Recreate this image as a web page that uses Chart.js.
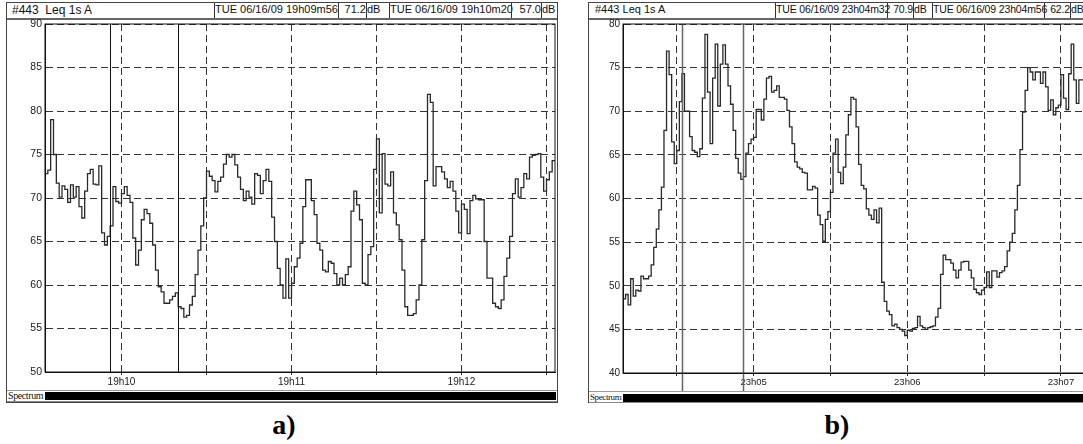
<!DOCTYPE html>
<html>
<head>
<meta charset="utf-8">
<script src="https://cdn.jsdelivr.net/npm/chart.js@4.4.0/dist/chart.umd.min.js"></script>
<style>
    body { margin: 0; width: 1083px; height: 444px; overflow: hidden; background: #fff; position: relative;
           font-family: "Liberation Sans", Arial, sans-serif; color: #111; }
    .panel { position: absolute; top: 2px; height: 401px; border: 1px solid #444; box-sizing: border-box; }
    .hdr { position: absolute; top: 3px; height: 17px; border-bottom: 2px solid #666; box-sizing: border-box; }
    .box { position: absolute; top: 0; height: 15px; line-height: 16px; white-space: nowrap; box-sizing: border-box; }
    .sep { border-left: 1px solid #333; }
    .chartbox { position: absolute; }
    .spec { position: absolute; height: 12px; border-top: 1px solid #999; border-bottom: 1px solid #888; box-sizing: border-box; }
    .spec span { position: absolute; left: 1px; top: 0; font-family: "Liberation Serif", serif; line-height: 10px; }
    .spec div { position: absolute; top: 1px; height: 8px; background: #000; }
    .tag { position: absolute; top: 411px; width: 50px; text-align: center; font: bold 28px/28px "Liberation Serif", serif; color: #000; }
</style>
</head>
<body>
<div class="panel" style="left:6px;width:552px"></div>
<div class="panel" style="left:588px;width:520px"></div>
<div id="hdrA" class="hdr" style="left:7px;width:550px"></div>
<div id="hdrB" class="hdr" style="left:589px;width:520px"></div>
<div class="chartbox" style="left:7px;top:12px;width:550px;height:378px"><canvas id="chartA"></canvas></div>
<div class="chartbox" style="left:589px;top:12px;width:495px;height:379px"><canvas id="chartB"></canvas></div>
<div class="spec" style="left:7px;top:390px;width:550px"><span style="font-size:10px;letter-spacing:-0.4px">Spectrum</span><div style="left:38px;width:511px"></div></div>
<div class="spec" style="left:589px;top:391px;width:500px"><span style="font-size:9px;letter-spacing:-0.4px">Spectrum</span><div style="left:34px;width:470px;top:2px"></div></div>
<div class="tag" style="left:259px">a)</div>
<div class="tag" style="left:812px">b)</div>

<script>
// Panel a) : 19h09m33 .. 19h12m33, one Leq value per second
const startA = '19:09:33';
const levelsA = [
    72.8, 73.2, 79.0, 75.0, 71.7, 70.1, 71.4, 71.0, 69.5, 71.5,
    70.1, 71.3, 69.0, 67.7, 70.8, 72.8, 73.3, 71.6, 71.5, 73.7,
    66.0, 64.6, 65.6, 66.8, 71.3, 69.6, 69.4, 70.5, 71.3, 70.3,
    69.5, 65.4, 62.3, 64.0, 67.5, 68.7, 68.2, 67.1, 64.6, 61.7,
    59.8, 59.2, 57.9, 57.9, 58.3, 58.7, 59.1, 57.5, 57.3, 56.3,
    56.5, 57.7, 58.7, 61.2, 64.0, 66.8, 70.0, 73.1, 72.5, 72.0,
    70.7, 71.9, 72.4, 73.9, 75.0, 74.7, 75.0, 73.8, 72.4, 71.0,
    69.7, 70.8, 70.1, 69.3, 72.8, 72.6, 70.5, 72.0, 73.3, 71.9,
    67.8, 65.0, 61.9, 60.0, 58.5, 63.0, 58.5, 60.2, 62.1, 63.1,
    64.8, 69.0, 72.1, 72.1, 69.7, 68.1, 64.8, 64.0, 61.7, 61.5,
    62.7, 62.5, 61.3, 60.0, 60.8, 60.0, 61.2, 62.1, 68.5, 70.8,
    69.2, 67.5, 60.2, 60.0, 63.5, 64.4, 73.3, 76.8, 68.3, 75.1,
    71.6, 71.4, 73.0, 68.3, 66.9, 65.2, 61.7, 57.5, 56.5, 56.5,
    56.7, 58.3, 60.0, 65.2, 72.0, 81.9, 81.0, 71.4, 73.6, 73.6,
    73.0, 72.2, 71.2, 71.9, 70.8, 68.5, 66.0, 69.3, 68.7, 65.9,
    69.7, 70.3, 69.9, 69.8, 69.8, 65.0, 60.8, 60.8, 57.9, 57.5,
    57.3, 58.3, 61.0, 63.1, 65.6, 70.5, 72.2, 70.1, 71.2, 72.8,
    72.2, 74.7, 74.9, 75.0, 75.1, 72.4, 70.8, 72.1, 73.0, 74.3
];
const yRangeA = [50, 90];
const cursorsA = ['19:09:56', '19:10:20'];
const headerA = ['#443\u00a0 Leq 1s A', 'TUE 06/16/09 19h09m56', '71.2', 'dB', 'TUE 06/16/09 19h10m20', '57.0', 'dB'];

// Panel b) : 23h04m09 .. 23h07m09
const startB = '23:04:09';
const levelsB = [
    48.5, 49.0, 47.8, 50.8, 48.8, 49.5, 49.4, 51.1, 50.8, 50.8,
    51.1, 52.4, 54.4, 56.5, 58.7, 61.3, 67.8, 76.9, 74.2, 66.5,
    64.0, 65.5, 71.1, 74.3, 70.0, 70.0, 67.1, 65.5, 65.3, 64.8,
    65.7, 71.5, 78.8, 72.2, 66.3, 73.8, 77.7, 70.6, 75.4, 77.6,
    75.4, 72.9, 70.8, 67.8, 64.6, 62.9, 62.2, 62.5, 65.2, 66.3,
    66.8, 67.0, 70.2, 70.2, 69.0, 71.4, 73.8, 74.0, 72.2, 72.4,
    72.9, 71.6, 71.6, 71.4, 70.1, 68.2, 66.3, 64.2, 63.6, 63.4,
    63.0, 62.9, 61.0, 61.0, 61.4, 61.2, 58.1, 57.0, 55.1, 57.6,
    58.5, 60.7, 65.2, 66.8, 63.0, 61.7, 63.6, 67.3, 69.6, 71.6,
    71.4, 68.2, 63.9, 61.5, 61.1, 58.8, 58.1, 57.6, 58.7, 57.2,
    58.9, 50.4, 48.2, 47.1, 46.7, 45.4, 45.6, 45.2, 45.0, 44.8,
    44.3, 44.9, 44.8, 45.1, 45.2, 46.5, 45.4, 45.2, 45.0, 45.2,
    45.3, 45.4, 46.4, 47.4, 51.3, 53.5, 53.0, 53.0, 52.6, 51.8,
    50.9, 51.8, 52.7, 52.8, 52.8, 51.8, 50.9, 49.6, 49.2, 49.0,
    49.5, 49.8, 51.6, 49.8, 51.7, 51.7, 51.0, 51.5, 51.7, 52.2,
    54.0, 55.0, 56.0, 58.7, 61.5, 65.6, 69.9, 72.4, 75.0, 74.5,
    73.6, 74.5, 74.5, 73.2, 74.5, 72.8, 70.1, 71.3, 69.6, 70.4,
    70.7, 74.2, 71.5, 70.2, 74.3, 77.7, 73.6, 70.9, 73.6, 73.6
];
const yRangeB = [40, 80];
const cursorsB = ['23:04:32', '23:04:56'];
const headerB = ['#443 Leq 1s A', 'TUE 06/16/09 23h04m32', '70.9', 'dB', 'TUE 06/16/09 23h04m56', '62.2', 'dB'];

const WINDOW_SEC = 180;

function toSec(t) {
    const p = t.split(':').map(Number);
    return p[0] * 3600 + p[1] * 60 + p[2];
}

function fmtTime(sec) {
    const h = Math.floor(sec / 3600);
    const m = Math.floor(sec / 60) % 60;
    return h + 'h' + String(m).padStart(2, '0');
}

// header boxes: [left, width, align, pad] relative to header left
function buildHeader(id, texts, cells, font) {
    const hdr = document.getElementById(id);
    cells.forEach((c, i) => {
        const d = document.createElement('div');
        d.className = 'box' + (i > 0 ? ' sep' : '');
        d.style.left = c[0] + 'px';
        d.style.width = c[1] + 'px';
        d.style.textAlign = c[2];
        d.style.padding = c[2] === 'left' ? '0 0 0 ' + c[3] + 'px' : '0 ' + c[3] + 'px 0 0';
        d.style.font = (i === 0 ? font[0] : font[1]);
        d.style.letterSpacing = (i === 0 ? '0' : font[2]);
        d.textContent = texts[i];
        hdr.appendChild(d);
    });
}

buildHeader('hdrA', headerA, [
    [0, 207, 'left', 5], [207, 124, 'right', 1], [331, 28, 'right', 0], [359, 23, 'left', 0],
    [382, 122, 'right', 1], [504, 30, 'right', 0], [534, 15, 'left', 0]
], ['12px "Liberation Sans", Arial', '11px "Liberation Sans", Arial', '0px']);

buildHeader('hdrB', headerB, [
    [0, 186, 'left', 6], [186, 112, 'right', 1], [298, 26, 'right', 0], [324, 19, 'left', 0],
    [343, 112, 'right', 1], [455, 26, 'right', 0], [481, 30, 'left', 0]
], ['11px "Liberation Sans", Arial', '10.5px "Liberation Sans", Arial', '-0.15px']);

// solid cursor lines + plot frame
const cursorPlugin = {
    id: 'cursors',
    afterDatasetsDraw(chart, args, opts) {
        const { ctx, chartArea } = chart;
        const xs = chart.scales.x;
        ctx.save();
        ctx.strokeStyle = opts.color;
        ctx.lineWidth = opts.width;
        opts.times.forEach(t => {
            const x = Math.round(xs.getPixelForValue(toSec(t))) + 0.5;
            ctx.beginPath();
            ctx.moveTo(x, chartArea.top);
            ctx.lineTo(x, opts.toBottom ? chart.height : chartArea.bottom);
            ctx.stroke();
        });
        ctx.strokeStyle = '#111';
        ctx.lineWidth = 1;
        ctx.strokeRect(chartArea.left, chartArea.top, chartArea.right - chartArea.left, chartArea.bottom - chartArea.top);
        ctx.restore();
    }
};

Chart.defaults.font.family = '"Liberation Sans", Arial, sans-serif';
Chart.defaults.color = '#222';

function makeChart(id, start, levels, yRange, cursors, yWidth, padRight, cursorStyle, fontSize) {
    const t0 = toSec(start);
    const pts = levels.map((v, i) => ({ x: t0 + i, y: v }));
    pts.push({ x: t0 + levels.length, y: levels[levels.length - 1] });

    return new Chart(document.getElementById(id), {
        type: 'line',
        data: {
            datasets: [{
                data: pts,
                stepped: true,
                borderColor: '#2a2a2a',
                borderWidth: 1.3,
                pointRadius: 0,
                fill: false
            }]
        },
        options: {
            responsive: true,
            maintainAspectRatio: false,
            animation: false,
            layout: { padding: { top: 12, right: padRight, left: 0, bottom: 0 } },
            plugins: {
                legend: { display: false },
                tooltip: { enabled: false },
                cursors: { times: cursors, color: cursorStyle.color, width: cursorStyle.width, toBottom: cursorStyle.toBottom }
            },
            scales: {
                x: {
                    type: 'linear',
                    min: t0,
                    max: t0 + WINDOW_SEC,
                    afterBuildTicks: scale => {
                        const ticks = [];
                        for (let v = Math.ceil(scale.min / 30) * 30; v <= scale.max; v += 30) ticks.push({ value: v });
                        scale.ticks = ticks;
                    },
                    afterFit: scale => { scale.height = 18; },
                    ticks: {
                        autoSkip: false,
                        maxRotation: 0,
                        padding: 1,
                        font: { size: fontSize },
                        callback: v => (v % 60 === 0 ? fmtTime(v) : '')
                    },
                    grid: { color: '#333', lineWidth: 1, tickLength: 3, tickColor: '#333' },
                    border: { display: true, color: '#111', dash: [7, 4] }
                },
                y: {
                    min: yRange[0],
                    max: yRange[1],
                    afterFit: scale => { scale.width = yWidth; },
                    ticks: { stepSize: 5, padding: 3, font: { size: fontSize + 0.5 } },
                    grid: { color: '#333', lineWidth: 1, drawTicks: false },
                    border: { display: true, color: '#111', dash: [7, 4] }
                }
            }
        },
        plugins: [cursorPlugin]
    });
}

makeChart('chartA', startA, levelsA, yRangeA, cursorsA, 38, 2, { color: '#111', width: 1, toBottom: false }, 10);
makeChart('chartB', startB, levelsB, yRangeB, cursorsB, 34, 0, { color: '#666', width: 1.5, toBottom: true }, 9.5);
</script>
</body>
</html>
